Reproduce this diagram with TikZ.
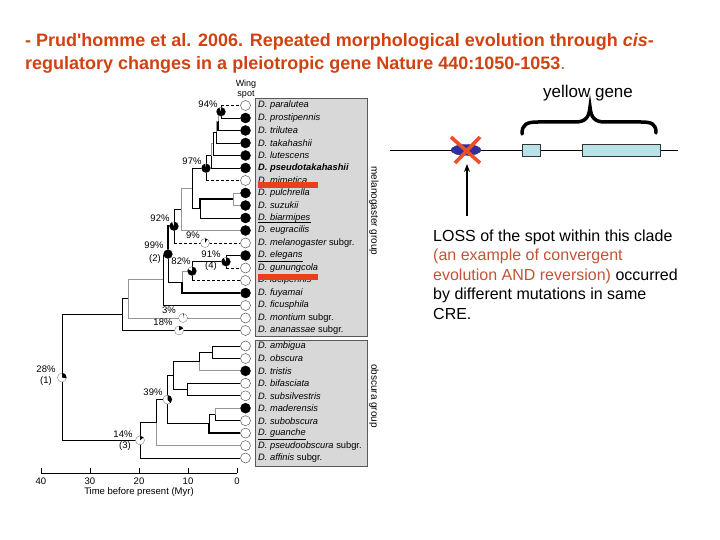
\documentclass[tikz,border=0pt]{standalone}
\usepackage{fontspec}
\setmainfont{Liberation Sans}
\usetikzlibrary{shapes.geometric,arrows.meta}
\definecolor{ttl}{RGB}{208,66,18}
\definecolor{orng}{RGB}{192,84,52}
\definecolor{rbar}{RGB}{232,64,28}
\definecolor{boxg}{RGB}{216,216,216}
\definecolor{brgrey}{RGB}{150,150,150}
\definecolor{navyb}{RGB}{48,48,150}
\definecolor{exonc}{RGB}{184,226,232}
\definecolor{xred}{RGB}{236,80,40}
\newcommand\mypie[3]{%
  \node[circle, draw=gray, fill=white, inner sep=0, minimum size=9, line width=0.4] (#1) at (#2) {};
  \fill (#1.center) -- ++(90:4.5pt) arc[start angle=90, delta angle=-360*#3, radius=4.5pt] -- cycle;}
\newcommand\dedge[2]{\draw[br] (#1) -- (#1 |- #2.west); \draw[brd] (#1 |- #2.west) -- (#2.west);}
\begin{document}
\begin{tikzpicture}[x=1pt,y=-1pt,
  tipf/.style={circle, fill=black, draw=black, inner sep=0, minimum size=10},
  tipo/.style={circle, fill=white, draw=gray!70!black, line width=0.5, inner sep=0, minimum size=10},
  br/.style={line width=0.9},
  brg/.style={line width=0.9, draw=brgrey},
  brk/.style={line width=1.8},
  brd/.style={line width=0.9, dash pattern=on 3pt off 2pt},
  sp/.style={anchor=west, inner sep=0, font=\fontsize{9.3}{10}\selectfont\itshape},
  pct/.style={inner sep=0, font=\fontsize{9.5}{10}\selectfont},
  ttxt/.style={anchor=base west, inner sep=0, text=ttl, font=\fontsize{18}{21}\selectfont\bfseries},
  ptxt/.style={anchor=base west, inner sep=0, font=\fontsize{16}{19}\selectfont},
  exon/.style={rectangle, draw=black!80, line width=0.6, fill=exonc, inner sep=0, minimum height=12}]
\useasboundingbox (0,0) rectangle (720,540);

% ---------- title ----------
\node[ttxt] (title1) at (25,47) {- Prud\textquotesingle homme et al. 2006. Repeated morphological evolution through \textit{cis}-};
\node[ttxt] (title2) at (25,70) {regulatory changes in a pleiotropic gene Nature 440:1050-1053\textmd{.}};

% ---------- grey boxes ----------
\draw[fill=boxg, draw=gray!70!black, line width=0.6] (255,98) rectangle (367,336);
\draw[fill=boxg, draw=gray!70!black, line width=0.6] (255,340) rectangle (367,466);
\node[rotate=-90, inner sep=0, font=\fontsize{10}{11}\selectfont] (gmel) at (374,211) {melanogaster group};
\node[rotate=-90, inner sep=0, font=\fontsize{10}{11}\selectfont] (gobs) at (374,396) {obscura group};
\node[inner sep=0, font=\fontsize{9}{10}\selectfont] (ws1) at (246,84) {Wing};
\node[inner sep=0, font=\fontsize{9}{10}\selectfont] (ws2) at (246,95) {spot};

% ---------- tips (melanogaster group) ----------
\node[tipo] (t0) at (245.5,105.5) {};  \node[sp] (l0) at (258,105.5) {D. paralutea};
\node[tipf] (t1) at (245.5,118) {};    \node[sp] (l1) at (258,118) {D. prostipennis};
\node[tipf] (t2) at (245.5,130.5) {};  \node[sp] (l2) at (258,130.5) {D. trilutea};
\node[tipf] (t3) at (245.5,143) {};    \node[sp] (l3) at (258,143) {D. takahashii};
\node[tipf] (t4) at (245.5,155.5) {};  \node[sp] (l4) at (258,155.5) {D. lutescens};
\node[tipf] (t5) at (245.5,168) {};    \node[sp] (l5) at (258,168) {\bfseries D. pseudotakahashii};
\node[tipo] (t6) at (245.5,180.5) {};  \node[sp] (l6) at (258,180.5) {D. mimetica};
\node[tipf] (t7) at (245.5,193) {};    \node[sp] (l7) at (258,193) {D. pulchrella};
\node[tipf] (t8) at (245.5,205.5) {};  \node[sp] (l8) at (258,205.5) {D. suzukii};
\node[tipf] (t9) at (245.5,218) {};    \node[sp] (l9) at (258,218) {D. biarmipes};
\node[tipf] (t10) at (245.5,230.5) {}; \node[sp] (l10) at (258,230.5) {D. eugracilis};
\node[tipo] (t11) at (245.5,243) {};   \node[sp] (l11) at (258,243) {D. melanogaster\upshape\ subgr.};
\node[tipf] (t12) at (245.5,255.5) {}; \node[sp] (l12) at (258,255.5) {D. elegans};
\node[tipo] (t13) at (245.5,268) {};   \node[sp] (l13) at (258,268) {D. gunungcola};
\node[tipo] (t14) at (245.5,280.5) {}; \node[sp] (l14) at (258,280.5) {D. lucipennis};
\node[tipf] (t15) at (245.5,293) {};   \node[sp] (l15) at (258,293) {D. fuyamai};
\node[tipo] (t16) at (245.5,305.5) {}; \node[sp] (l16) at (258,305.5) {D. ficusphila};
\node[tipo] (t17) at (245.5,318) {};   \node[sp] (l17) at (258,318) {D. montium\upshape\ subgr.};
\node[tipo] (t18) at (245.5,330.5) {}; \node[sp] (l18) at (258,330.5) {D. ananassae\upshape\ subgr.};
% ---------- tips (obscura group) ----------
\node[tipo] (s0) at (245.5,346) {};    \node[sp] (m0) at (258,346) {D. ambigua};
\node[tipo] (s1) at (245.5,358.5) {};  \node[sp] (m1) at (258,358.5) {D. obscura};
\node[tipf] (s2) at (245.5,370.9) {};  \node[sp] (m2) at (258,370.9) {D. tristis};
\node[tipo] (s3) at (245.5,383.3) {};  \node[sp] (m3) at (258,383.3) {D. bifasciata};
\node[tipo] (s4) at (245.5,395.8) {};  \node[sp] (m4) at (258,395.8) {D. subsilvestris};
\node[tipf] (s5) at (245.5,408.2) {};  \node[sp] (m5) at (258,408.2) {D. maderensis};
\node[tipo] (s6) at (245.5,420.7) {};  \node[sp] (m6) at (258,420.7) {D. subobscura};
\node[tipo] (s7) at (245.5,433.1) {};  \node[sp] (m7) at (258,433.1) {D. guanche};
\node[tipo] (s8) at (245.5,445.6) {};  \node[sp] (m8) at (258,445.6) {D. pseudoobscura\upshape\ subgr.};
\node[tipo] (s9) at (245.5,458) {};    \node[sp] (m9) at (258,458) {D. affinis\upshape\ subgr.};

% underlines
\draw[line width=0.5] ([yshift=0.5]l9.south west) -- ([yshift=0.5]l9.south east);
\draw[line width=0.5] ([yshift=-1.5]l12.south west) -- ([yshift=-1.5]l12.south east);
\draw[line width=0.5] ([yshift=-1.5]m7.south west) -- ([yshift=-1.5]m7.south east);

% ---------- internal nodes ----------
\coordinate (a1) at (221,111.75);
\coordinate (a2) at (218,121.1);
\coordinate (a3) at (216,132);
\coordinate (a4) at (213,143.8);
\coordinate (a5) at (211,155.9);
\coordinate (a6) at (206,168.2);
\coordinate (b1) at (233,199.25);
\coordinate (b2) at (200,208.6);
\coordinate (c1) at (192,188.4);
\coordinate (c2) at (181,209.5);
\coordinate (c3) at (174,226.2);
\coordinate (d1) at (226,261.75);
\coordinate (d2) at (192,271.1);
\coordinate (d3) at (182,282);
\coordinate (e1) at (168,254.1);
\coordinate (e2) at (163,279.8);
\coordinate (e3) at (128,298.9);
\coordinate (e4) at (122,314.7);
\coordinate (o1) at (212.7,352.2);
\coordinate (o2) at (199,361.5);
\coordinate (o3) at (187,389.5);
\coordinate (o4) at (173,375.5);
\coordinate (o5) at (215,414.5);
\coordinate (o6) at (209,423.8);
\coordinate (o7) at (167.5,399.6);
\coordinate (o8) at (156,422.6);
\coordinate (o9) at (140,440.3);
\coordinate (rt) at (62,377.5);

% ---------- branches ----------
\dedge{a1}{t0} \draw[br] (a1) |- (t1.west);
\draw[brg] (a2) |- (a1); \draw[brk] (a2) |- (t2.west);
\draw[brg] (a3) |- (a2); \draw[br] (a3) |- (t3.west);
\draw[br] (a4) |- (a3); \draw[br] (a4) |- (t4.west);
\draw[brg] (a5) |- (a4); \draw[br] (a5) |- (t5.west);
\draw[br] (a6) |- (a5); \dedge{a6}{t6}
\draw[brg] (b1) |- (t7.west); \draw[brg] (b1) |- (t8.west);
\draw[brk] (b2) |- (b1); \draw[br] (b2) |- (t9.west);
\draw[br] (c1) |- (a6); \draw[br] (c1) |- (b2);
\draw[brg] (c2) |- (c1); \draw[brg] (c2) |- (t10.west);
\draw[br] (c3) |- (c2); \dedge{c3}{t11}
\draw[br] (d1) |- (t12.west); \dedge{d1}{t13}
\draw[br] (d2) |- (d1); \dedge{d2}{t14}
\draw[brg] (d3) |- (d2); \draw[brk] (d3) |- (t15.west);
\draw[brk] (e1) |- (c3); \draw[br] (e1) |- (d3);
\draw[br] (e2) |- (e1); \draw[br] (e2) |- (t16.west);
\draw[brg] (e3) |- (e2); \draw[brg] (e3) |- (t17.west);
\draw[br] (e4) |- (e3); \draw[br] (e4) |- (t18.west);
\draw[br] (rt) |- (e4); \draw[br] (rt) |- (o9);
\draw[br] (o1) |- (s0.west); \draw[br] (o1) |- (s1.west);
\draw[br] (o2) |- (o1); \draw[brg] (o2) |- (s2.west);
\draw[br] (o3) |- (s3.west); \draw[br] (o3) |- (s4.west);
\draw[br] (o4) |- (o2); \draw[br] (o4) |- (o3);
\draw[brg] (o5) |- (s5.west); \draw[br] (o5) |- (s6.west);
\draw[br] (o6) |- (o5); \draw[brk] (o6) |- (s7.west);
\draw[br] (o7) |- (o4); \draw[br] (o7) |- (o6);
\draw[br] (o8) |- (o7); \draw[brg] (o8) |- (s8.west);
\draw[br] (o9) |- (o8); \draw[br] (o9) |- (s9.west);

% ---------- node state markers ----------
\mypie{p94}{221,111.75}{0.94}
\mypie{p97}{206,168.2}{0.97}
\mypie{p92}{174,226.2}{0.92}
\mypie{p99}{168,254.1}{0.99}
\mypie{p82}{192,271.1}{0.82}
\mypie{p91}{226,261.75}{0.91}
\mypie{p9}{205,243}{0.09}
\mypie{p3}{183,318}{0.03}
\mypie{p18}{179,330.5}{0.18}
\mypie{p28}{62,377.5}{0.28}
\mypie{p39}{167.5,399.6}{0.39}
\mypie{p14}{140,440.3}{0.14}

% ---------- percentages ----------
\node[pct] (q94) at (208,104.5) {94\%};
\node[pct] (q97) at (192,161) {97\%};
\node[pct] (q92) at (160,218.5) {92\%};
\node[pct] (q9) at (193,235.5) {9\%};
\node[pct] (q99) at (154,245.5) {99\%};
\node[pct] (q99b) at (155,259.5) {(2)};
\node[pct] (q82) at (181,261) {82\%};
\node[pct] (q91) at (211,254) {91\%};
\node[pct] (q91b) at (211,266.5) {(4)};
\node[pct] (q3) at (169,310) {3\%};
\node[pct] (q18) at (163,322.5) {18\%};
\node[pct] (q28) at (46,369.5) {28\%};
\node[pct] (q28b) at (46,381.5) {(1)};
\node[pct] (q39) at (153,392.5) {39\%};
\node[pct] (q14) at (123,434) {14\%};
\node[pct] (q14b) at (125,446) {(3)};

% ---------- red bars ----------
\fill[rbar] (258,182.5) rectangle (318,188.5);
\fill[rbar] (258,273.5) rectangle (318,279.5);

% ---------- time axis ----------
\coordinate (ax0) at (41,473);
\coordinate (ax4) at (237,473);
\draw[line width=0.8] (ax0) -- (ax4);
\foreach \xx/\lab in {41/40, 90/30, 139/20, 188/10, 237/0} {
  \draw[line width=0.8] (\xx,473) -- (\xx,468);
  \node[pct] (tk\lab) at (\xx,481.5) {\lab};
}
\node[pct] (axl) at (139,492.5) {Time before present (Myr)};

% ---------- gene diagram ----------
\coordinate (lA) at (390,150);
\coordinate (lB) at (678,150);
\draw[line width=0.9] (lA) -- (lB);
\node[ellipse, fill=navyb, draw=navyb, minimum width=30, minimum height=11, inner sep=0] (cre) at (466,150) {};
\node[exon, minimum width=18] (ex1) at (531.7,150) {};
\node[exon, minimum width=78.4] (ex2) at (621.5,150) {};
\draw[xred, line width=3.6] ([shift={(-15,-13)}]cre.center) -- ([shift={(14,13)}]cre.center);
\draw[xred, line width=3.6] ([shift={(14,-13)}]cre.center) -- ([shift={(-11,13)}]cre.center);
\coordinate (arb) at (467,216);
\coordinate (art) at (467,164);
\draw[line width=1.1, -{Stealth[length=8,width=6]}] (arb) -- (art);
\draw[line width=3.5, line cap=round]
  (522,134) .. controls (522,124) and (527,122) .. (538,122) -- (575,122)
  .. controls (585,122) and (589,118) .. (590,107)
  .. controls (591,118) and (595,122) .. (605,122) -- (641,122)
  .. controls (652,122) and (656,124) .. (656,133);
\node[inner sep=0, font=\fontsize{17}{20}\selectfont] (yg) at (588,93) {yellow gene};

% ---------- paragraph ----------
\node[ptxt] (pa1) at (433,241) {LOSS of the spot within this clade};
\node[ptxt, text=orng] (pa2) at (433,260.5) {(an example of convergent};
\node[ptxt] (pa3) at (433,280) {\textcolor{orng}{evolution AND reversion)} occurred};
\node[ptxt] (pa4) at (433,299.5) {by different mutations in same};
\node[ptxt] (pa5) at (433,319) {CRE.};
\end{tikzpicture}
\end{document}
